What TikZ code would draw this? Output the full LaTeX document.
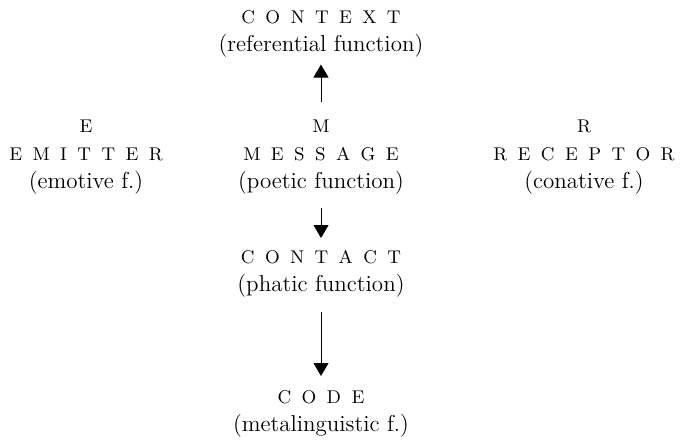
\documentclass[tikz,border=0pt]{standalone}
\usetikzlibrary{arrows.meta}
\newcommand\spacedcaps[1]{{\fontsize{9.2}{14}\selectfont\spaceskip=5.2pt\relax#1}}
\tikzstyle{function}=[align=center, inner sep=0pt, anchor=north,
  font=\fontsize{11.5}{14}\selectfont]
\tikzstyle{flow}=[-{Triangle[width=7.5pt,length=6.5pt]}, line width=0.5pt]

\begin{document}
\begin{tikzpicture}[x=0.5pt,y=-0.5pt]
  \useasboundingbox (0,0) rectangle (680,440);

  % the six factors
  \node[function] (context) at (321,10) {\spacedcaps{C O N T E X T}\\(referential function)};
  \node[function] (emitter) at (86,120) {\spacedcaps{E}\\\spacedcaps{E M I T T E R}\\(emotive f.)};
  \node[function] (message) at (321,120) {\spacedcaps{M}\\\spacedcaps{M E S S A G E}\\(poetic function)};
  \node[function] (receptor) at (584,120) {\spacedcaps{R}\\\spacedcaps{R E C E P T O R}\\(conative f.)};
  \node[function] (contact) at (321,250) {\spacedcaps{C O N T A C T}\\(phatic function)};
  \node[function] (code) at (321,390) {\spacedcaps{C O D E}\\(metalinguistic f.)};

  \draw[flow, shorten <=9pt, shorten >=3.5pt] (message) -- (context);
  \draw[flow, shorten <=6.5pt, shorten >=6pt] (message) -- (contact);
  \draw[flow, shorten <=7pt, shorten >=7pt] (contact) -- (code);
\end{tikzpicture}
\end{document}
